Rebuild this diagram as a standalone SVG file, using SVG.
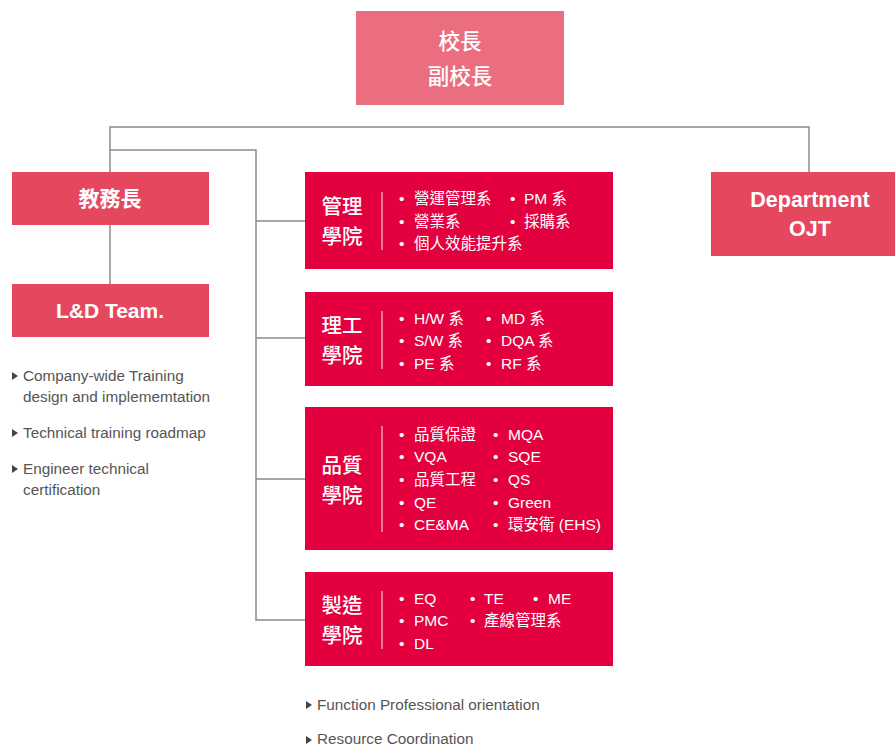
<svg xmlns="http://www.w3.org/2000/svg" width="895" height="747" viewBox="0 0 895 747">
<style>
.t{font-family:"Noto Sans CJK TC","Liberation Sans",sans-serif;fill:#fff}
.lat{font-family:"Liberation Sans","Noto Sans CJK TC",sans-serif;fill:#fff}
.ti{font-size:20.5px;font-weight:500;font-family:"Noto Sans CJK TC",sans-serif;fill:#fff}
.it{font-size:15.5px;font-family:"Liberation Sans","Noto Sans CJK TC",sans-serif;fill:#fff}
.note{font-size:15.3px;font-family:"Liberation Sans",sans-serif;fill:#555}
.ln{stroke:#8a8a8a;stroke-width:1.5;fill:none}
.dept{fill:#e4003f}
.div{stroke:#f3a0b2;stroke-width:1.5}
</style>
<defs>
<path id="tri" d="M0,-4 L6,0 L0,4 Z" fill="#444"/>
</defs>
<g id="connectors">
<path class="ln" d="M110,172 V127 H809 V172"/>
<path class="ln" d="M110,150 H256 V620 H305"/>
<path class="ln" d="M256,221 H305 M256,338 H305 M256,479 H305"/>
<path class="ln" d="M110,225 V284"/>
</g>
<g id="principal">
<rect x="356" y="11" width="208" height="94" fill="#ea6e80"/>
<text class="t" x="460" y="49" font-size="21.5" font-weight="500" text-anchor="middle">校長</text>
<text class="t" x="460" y="84" font-size="21.5" font-weight="500" text-anchor="middle">副校長</text>
</g>
<g id="provost">
<rect x="12" y="172" width="197" height="53" fill="#e5475f"/>
<text class="t" x="110" y="206" font-size="21" text-anchor="middle" font-weight="bold">教務長</text>
</g>
<g id="ld-team">
<rect x="12" y="284" width="197" height="53" fill="#e5475f"/>
<text class="lat" x="110" y="318" font-size="21" text-anchor="middle" font-weight="bold">L&amp;D Team.</text>
</g>
<g id="ld-notes">
<use href="#tri" x="12" y="376"/>
<text class="note" x="23" y="381">Company-wide Training</text>
<text class="note" x="23" y="402">design and implememtation</text>
<use href="#tri" x="12" y="433"/>
<text class="note" x="23" y="438">Technical training roadmap</text>
<use href="#tri" x="12" y="469"/>
<text class="note" x="23" y="474">Engineer technical</text>
<text class="note" x="23" y="495">certification</text>
</g>
<g id="dept-ojt">
<rect x="711" y="172" width="184" height="84" fill="#e5475f"/>
<text class="lat" x="810" y="207" font-size="21.5" text-anchor="middle" font-weight="bold">Department</text>
<text class="lat" x="810" y="236" font-size="21.5" text-anchor="middle" font-weight="bold">OJT</text>
</g>
<g id="mgmt">
<rect class="dept" x="305" y="172" width="308" height="97"/>
<text class="ti" x="342" y="214" text-anchor="middle">管理</text>
<text class="ti" x="342" y="244" text-anchor="middle">學院</text>
<line class="div" x1="382" y1="192" x2="382" y2="250"/>
<g class="it">
<text x="399" y="204">•</text><text x="414" y="204">營運管理系</text>
<text x="510" y="204">•</text><text x="524" y="204">PM 系</text>
<text x="399" y="227">•</text><text x="414" y="227">營業系</text>
<text x="510" y="227">•</text><text x="524" y="227">採購系</text>
<text x="399" y="249">•</text><text x="414" y="249">個人效能提升系</text>
</g>
</g>
<g id="eng">
<rect class="dept" x="305" y="292" width="308" height="94"/>
<text class="ti" x="342" y="333" text-anchor="middle">理工</text>
<text class="ti" x="342" y="363" text-anchor="middle">學院</text>
<line class="div" x1="382" y1="311" x2="382" y2="369"/>
<g class="it">
<text x="399" y="324">•</text><text x="414" y="324">H/W 系</text>
<text x="486" y="324">•</text><text x="501" y="324">MD 系</text>
<text x="399" y="346">•</text><text x="414" y="346">S/W 系</text>
<text x="486" y="346">•</text><text x="501" y="346">DQA 系</text>
<text x="399" y="369">•</text><text x="414" y="369">PE 系</text>
<text x="486" y="369">•</text><text x="501" y="369">RF 系</text>
</g>
</g>
<g id="quality">
<rect class="dept" x="305" y="407" width="308" height="143"/>
<text class="ti" x="342" y="473" text-anchor="middle">品質</text>
<text class="ti" x="342" y="503" text-anchor="middle">學院</text>
<line class="div" x1="382" y1="426" x2="382" y2="532"/>
<g class="it">
<text x="399" y="440">•</text><text x="414" y="440">品質保證</text>
<text x="493" y="440">•</text><text x="508" y="440">MQA</text>
<text x="399" y="462">•</text><text x="414" y="462">VQA</text>
<text x="493" y="462">•</text><text x="508" y="462">SQE</text>
<text x="399" y="485">•</text><text x="414" y="485">品質工程</text>
<text x="493" y="485">•</text><text x="508" y="485">QS</text>
<text x="399" y="508">•</text><text x="414" y="508">QE</text>
<text x="493" y="508">•</text><text x="508" y="508">Green</text>
<text x="399" y="530">•</text><text x="414" y="530">CE&amp;MA</text>
<text x="493" y="530">•</text><text x="508" y="530">環安衛 (EHS)</text>
</g>
</g>
<g id="mfg">
<rect class="dept" x="305" y="572" width="308" height="94"/>
<text class="ti" x="342" y="613" text-anchor="middle">製造</text>
<text class="ti" x="342" y="643" text-anchor="middle">學院</text>
<line class="div" x1="382" y1="591" x2="382" y2="649"/>
<g class="it">
<text x="399" y="604">•</text><text x="414" y="604">EQ</text>
<text x="470" y="604">•</text><text x="484" y="604">TE</text>
<text x="533" y="604">•</text><text x="548" y="604">ME</text>
<text x="399" y="626">•</text><text x="414" y="626">PMC</text>
<text x="470" y="626">•</text><text x="484" y="626">產線管理系</text>
<text x="399" y="649">•</text><text x="414" y="649">DL</text>
</g>
</g>
<g id="bottom-notes">
<use href="#tri" x="306" y="705"/>
<text class="note" x="317" y="710">Function Professional orientation</text>
<use href="#tri" x="306" y="740"/>
<text class="note" x="317" y="744">Resource Coordination</text>
</g>
</svg>
